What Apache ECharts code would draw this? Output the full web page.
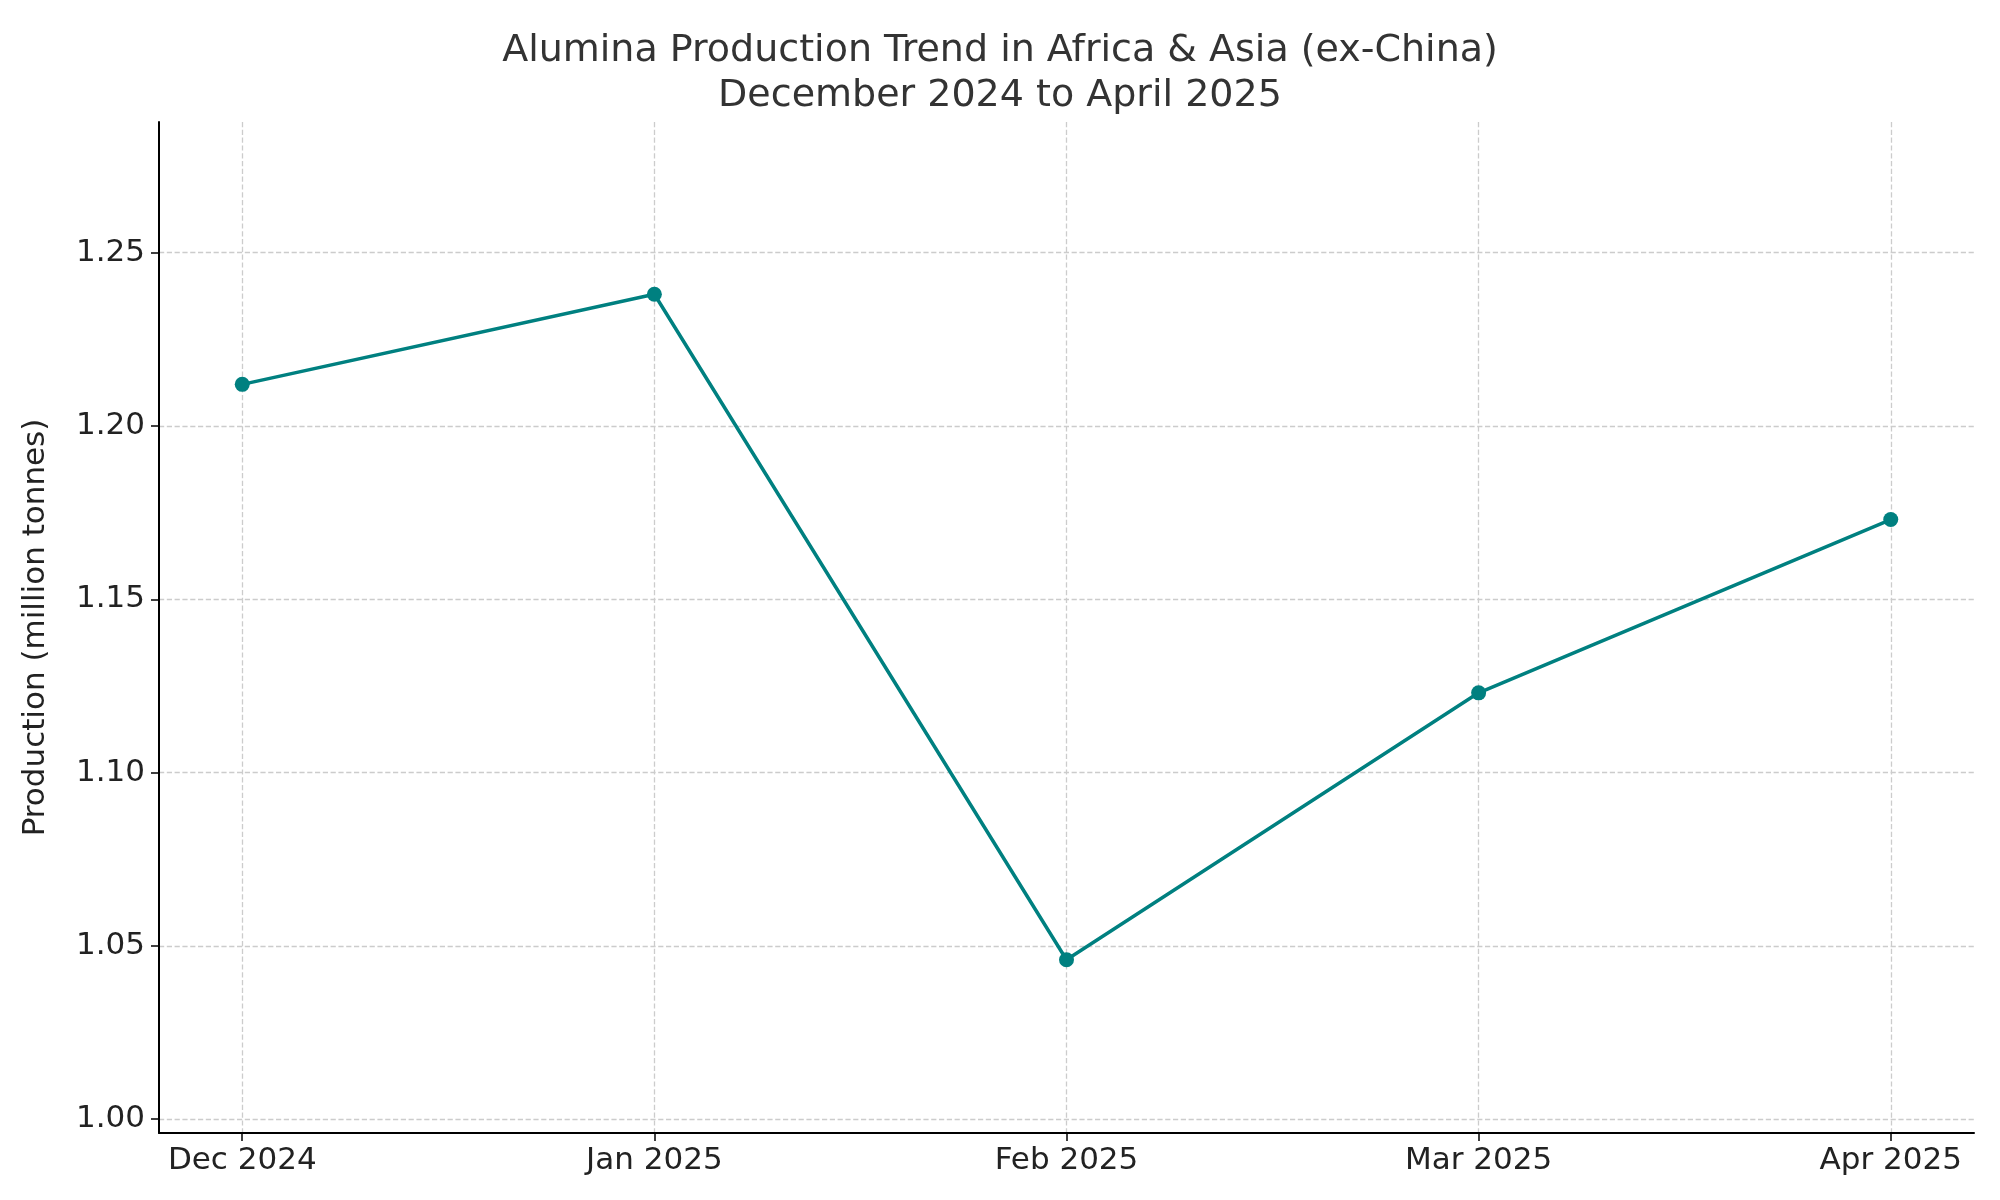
<!DOCTYPE html>
<html><head><meta charset="utf-8">
<script src="https://cdn.jsdelivr.net/npm/echarts@6/dist/echarts.min.js"></script>
<style>html,body{margin:0;padding:0;background:#fff}#c{width:2000px;height:1200px}</style>
</head><body><div id="c"></div>
<script>
const categories = ['Dec 2024','Jan 2025','Feb 2025','Mar 2025','Apr 2025'];
const production = [1.212, 1.238, 1.046, 1.123, 1.173];
const yTicks = [1.00, 1.05, 1.10, 1.15, 1.20, 1.25];
const font = 'DejaVu Sans';
const chart = echarts.init(document.getElementById('c'));
chart.setOption({
  backgroundColor:'#fff',
  animation:false,
  title:{text:'Alumina Production Trend in Africa & Asia (ex-China)\nDecember 2024 to April 2025',left:'center',top:24,
    textStyle:{fontFamily:font,fontSize:38,fontWeight:'normal',color:'#333',lineHeight:45}},
  grid:{left:159,right:26,top:122,bottom:67},
  xAxis:{type:'value',min:-0.202,max:4.202,
    axisLine:{show:true,onZero:false,lineStyle:{color:'#000',width:2}},
    axisTick:{show:true,customValues:[0,1,2,3,4],length:8,lineStyle:{color:'#000',width:1.5}},
    axisLabel:{customValues:[0,1,2,3,4],formatter:v=>categories[Math.round(v)],fontFamily:font,fontSize:31,color:'#222',margin:12},
    splitLine:{show:true,lineStyle:{type:'dashed',color:'#ccc',width:1.3}}},
  yAxis:{type:'value',min:0.996,max:1.2877,name:'Production (million tonnes)',nameLocation:'middle',nameGap:108,
    nameTextStyle:{fontFamily:font,fontSize:31,color:'#222'},
    axisLine:{show:true,onZero:false,lineStyle:{color:'#000',width:2}},
    axisTick:{show:true,customValues:yTicks,length:8,lineStyle:{color:'#000',width:1.5}},
    axisLabel:{customValues:yTicks,formatter:v=>v.toFixed(2),fontFamily:font,fontSize:31,color:'#222',margin:14},
    splitLine:{show:true,lineStyle:{type:'dashed',color:'#ccc',width:1.3}}},
  series:[{type:'line',data:production.map((v,i)=>[i,v]),color:'#008080',
    lineStyle:{width:3.5,color:'#008080'},symbol:'circle',symbolSize:15,itemStyle:{color:'#008080'}}]
});
</script></body></html>
